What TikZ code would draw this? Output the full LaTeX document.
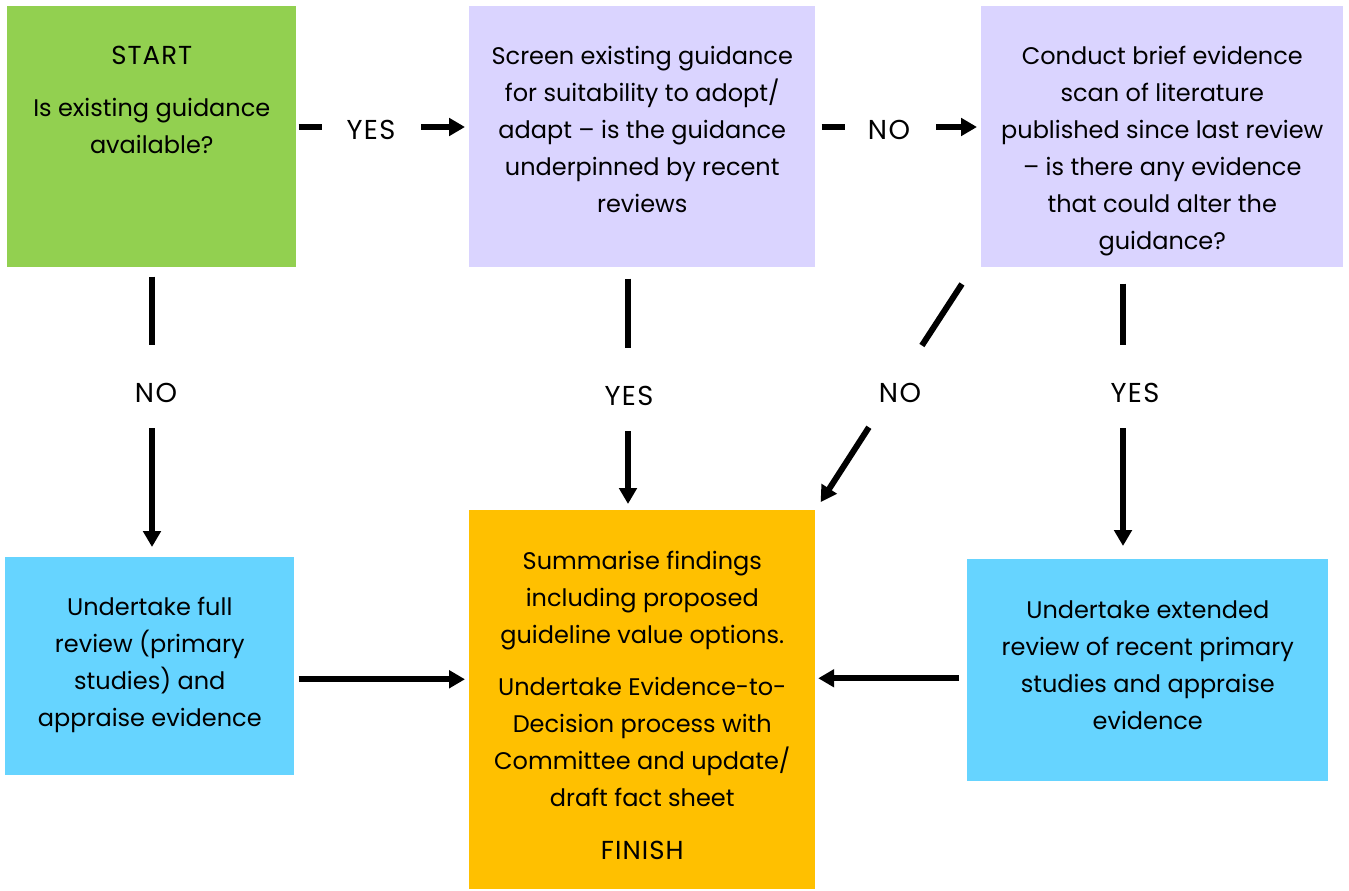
\documentclass[tikz,border=0pt]{standalone}
\usepackage{fontspec}
\setmainfont{Poppins}
\usetikzlibrary{arrows.meta,calc}
\definecolor{cgreen}{HTML}{92D050}
\definecolor{clav}{HTML}{DAD4FF}
\definecolor{cblue}{HTML}{66D4FF}
\definecolor{corange}{HTML}{FFC000}
\newcommand{\capsw}[1]{{\fontsize{19.5}{27.75}\selectfont\addfontfeature{LetterSpace=4}#1}}
\begin{document}
\begin{tikzpicture}[x=0.75pt,y=-0.75pt,
 box/.style={draw=none,inner sep=0,anchor=north west},
 txt/.style={anchor=north,align=center,inner sep=0,font=\fontsize{18}{27.75}\selectfont},
 lbl/.style={inner sep=0,font=\fontsize{20.5}{27.75}\selectfont\addfontfeature{LetterSpace=5}},
 seg/.style={line width=4.5pt},
 arr/.style={line width=4.5pt,-{Triangle[length=12pt,width=13pt]}}]
\useasboundingbox (0,0) rectangle (1349,891);
% boxes
\node[box,fill=cgreen,minimum width=216.75pt,minimum height=195.75pt] (start) at (7,6) {};
\node[box,fill=clav,minimum width=259.5pt,minimum height=195.75pt] (p1) at (469,6) {};
\node[box,fill=clav,minimum width=271.5pt,minimum height=195.75pt] (p2) at (981,6) {};
\node[box,fill=cblue,minimum width=216.75pt,minimum height=163.5pt] (full) at (5,557) {};
\node[box,fill=corange,minimum width=259.5pt,minimum height=284.25pt] (fin) at (469,510) {};
\node[box,fill=cblue,minimum width=270.75pt,minimum height=166.5pt] (ext) at (967,559) {};
% texts
\node[txt] (tstart) at ($(start.north)+(0,32)$) {\strut \capsw{START}\\[11.6pt] Is existing guidance\\ available?};
\node[txt] (tp1) at ($(p1.north)+(0,32)$) {\strut Screen existing guidance\\ for suitability to adopt/\\ adapt – is the guidance\\ underpinned by recent\\ reviews};
\node[txt] (tp2) at ($(p2.north)+(0,32)$) {\strut Conduct brief evidence\\ scan of literature\\ published since last review\\ – is there any evidence\\ that could alter the\\ guidance?};
\node[txt] (tfull) at ($(full.north)+(0,32)$) {\strut Undertake full\\ review (primary\\ studies) and\\ appraise evidence};
\node[txt] (tfin) at ($(fin.north)+(0,33)$) {\strut Summarise findings\\ including proposed\\ guideline value options.\\[11.6pt] Undertake Evidence-to-\\ Decision process with\\ Committee and update/\\ draft fact sheet\\[11.6pt] \capsw{FINISH}};
\node[txt] (text) at ($(ext.north)+(0,33)$) {\strut Undertake extended\\ review of recent primary\\ studies and appraise\\ evidence};
% labels
\node[lbl] (lA) at (371,130) {YES};
\node[lbl] (lB) at (889,130) {NO};
\node[lbl] (lC) at (156,393) {NO};
\node[lbl] (lD) at (629,396) {YES};
\node[lbl] (lE) at (900,393) {NO};
\node[lbl] (lF) at (1135,393) {YES};
\coordinate (cA) at (371,127);
\coordinate (cB) at (889,127);
\coordinate (cC) at (152,393);
\coordinate (cD) at (628,395);
\coordinate (cE) at (891,393);
\coordinate (cF) at (1123,393);
\coordinate (eA) at (973,267);
% connectors
\draw[seg,shorten <=1.5pt,shorten >=36.75pt] (start.east |- cA) -- (cA);
\draw[arr,shorten <=37.5pt,shorten >=3pt] (cA) -- (p1.west |- cA);
\draw[seg,shorten <=4.5pt,shorten >=33pt] (p1.east |- cB) -- (cB);
\draw[arr,shorten <=35.25pt,shorten >=3pt] (cB) -- (p2.west |- cB);
\draw[seg,shorten <=6.75pt,shorten >=36pt] (cC |- start.south) -- (cC);
\draw[arr,shorten <=26.25pt,shorten >=7.5pt] (cC) -- (cC |- full.north);
\draw[seg,shorten <=8.25pt,shorten >=35.25pt] (cD |- p1.south) -- (cD);
\draw[arr,shorten <=27pt,shorten >=4.5pt] (cD) -- (cD |- fin.north);
\draw[seg,shorten <=15.2pt,shorten >=42.5pt] (eA) -- (cE);
\draw[arr,shorten <=30.6pt,shorten >=7pt] (cE) -- (fin.north east);
\draw[seg,shorten <=12pt,shorten >=36pt] (cF |- p2.south) -- (cF);
\draw[arr,shorten <=26.25pt,shorten >=9.75pt] (cF) -- (cF |- ext.north);
\draw[arr,shorten <=3pt,shorten >=3pt] ([yshift=-9.75pt]full.east) -- ([yshift=-9.75pt]full.east -| fin.west);
\draw[arr,shorten >=2pt] ([xshift=-6pt,yshift=-6pt]ext.west) -- ([yshift=-6pt]ext.west -| fin.east);
\end{tikzpicture}
\end{document}
